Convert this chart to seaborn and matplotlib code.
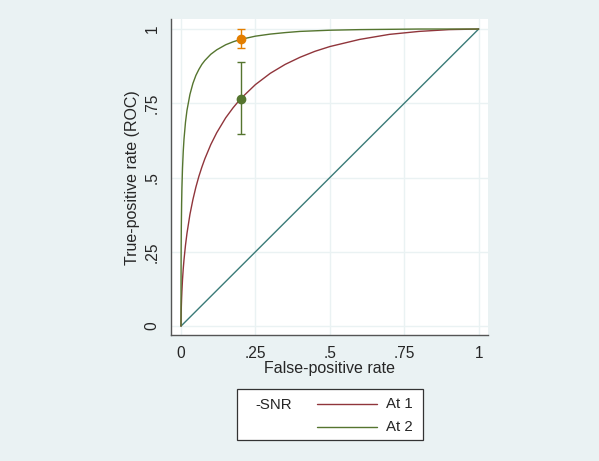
import matplotlib
matplotlib.use("Agg")
import matplotlib.pyplot as plt
import seaborn as sns
from matplotlib.patches import Rectangle
from matplotlib.lines import Line2D

# ---- data ----
fpr = [0, 0.00002, 0.0001, 0.0003, 0.0005, 0.001, 0.002, 0.003, 0.005, 0.0075, 0.01,
       0.015, 0.02, 0.03, 0.04, 0.05, 0.06, 0.07, 0.08, 0.1, 0.12, 0.15, 0.175, 0.2,
       0.25, 0.3, 0.35, 0.4, 0.45, 0.5, 0.6, 0.7, 0.8, 0.9, 1.0]
tpr_at1 = [0, 0.0055, 0.0156, 0.0309, 0.0421, 0.0635, 0.0944, 0.118, 0.156, 0.193, 0.223,
           0.272, 0.312, 0.376, 0.426, 0.468, 0.504, 0.535, 0.563, 0.611, 0.651, 0.701, 0.735, 0.765,
           0.813, 0.851, 0.881, 0.905, 0.925, 0.941, 0.965, 0.982, 0.992, 0.998, 1.0]
tpr_at2 = [0, 0.073, 0.143, 0.218, 0.262, 0.331, 0.411, 0.463, 0.531, 0.588, 0.629,
           0.686, 0.726, 0.780, 0.817, 0.844, 0.864, 0.881, 0.894, 0.915, 0.930, 0.947, 0.957, 0.965,
           0.976, 0.983, 0.988, 0.992, 0.994, 0.996, 0.998, 0.999, 1.0, 1.0, 1.0]
diag = [0, 1]

# operating points with confidence intervals
pt_x = [0.2, 0.2]
pt_y = [0.765, 0.966]
pt_lo = [0.645, 0.936]
pt_hi = [0.888, 1.0]

xticks = [0, 0.25, 0.5, 0.75, 1]
xticklabels = ["0", ".25", ".5", ".75", "1"]
yticks = [0, 0.25, 0.5, 0.75, 1]
yticklabels = ["0", ".25", ".5", ".75", "1"]

legend_labels = ["At 1", "At 2"]
legend_title = "-SNR"

# ---- style ----
sns.set_style("white")
plt.rcParams["font.family"] = ["Liberation Sans", "DejaVu Sans"]

BG = "#EAF2F3"
MAROON = "#90353B"
GREEN = "#55752F"
ORANGE = "#E37E00"
TEAL = "#3A7B78"

fig = plt.figure(figsize=(5.99, 4.61), dpi=100, facecolor=BG)
ax = fig.add_axes([0.285, 0.2733, 0.5305, 0.6848])
ax.set_facecolor("white")

ax.set_xlim(-0.0346, 1.033)
ax.set_ylim(-0.030, 1.0327)

# grid
for v in xticks:
    ax.axvline(v, color=BG, lw=1.0, zorder=0)
for v in yticks:
    ax.axhline(v, color=BG, lw=1.0, zorder=0)

sns.lineplot(x=diag, y=diag, color=TEAL, lw=1.0, ax=ax, estimator=None, sort=False, zorder=2)
sns.lineplot(x=fpr, y=tpr_at1, color=MAROON, lw=1.0, ax=ax, estimator=None, sort=False, zorder=3)
sns.lineplot(x=fpr, y=tpr_at2, color=GREEN, lw=1.0, ax=ax, estimator=None, sort=False, zorder=3)

colors_pts = [GREEN, ORANGE]
for x, y, lo, hi, c in zip(pt_x, pt_y, pt_lo, pt_hi, colors_pts):
    ax.errorbar([x], [y], yerr=[[y - lo], [hi - y]], fmt="o", color=c, ms=6,
                capsize=3, elinewidth=1.0, capthick=1.0, zorder=4)

ax.set_xticks(xticks)
ax.set_xticklabels(xticklabels)
ax.set_yticks(yticks)
ax.set_yticklabels(yticklabels, rotation=90, va="center")
ax.tick_params(axis="both", direction="out", length=5, width=0.8, color="#555555",
               labelsize=11.2, pad=3)
ax.set_xlabel("False-positive rate", fontsize=11.5, labelpad=0)
ax.set_ylabel("True-positive rate (ROC)", fontsize=11.5, labelpad=3)

for s in ["top", "right"]:
    ax.spines[s].set_visible(False)
for s in ["left", "bottom"]:
    ax.spines[s].set_color("#555555")
    ax.spines[s].set_linewidth(1.0)

# ---- legend (drawn manually, Stata style) ----
W, H = 599, 461
def fx(px):
    return px / W
def fy(py):
    return 1 - py / H

fig.add_artist(Rectangle((fx(237), fy(440)), fx(423) - fx(237), fy(389) - fy(440),
                         transform=fig.transFigure, facecolor="white",
                         edgecolor="#333333", lw=0.9))
fig.text(fx(255), fy(405), legend_title, ha="left", va="center", fontsize=10.8)
for i, (lab, c) in enumerate(zip(legend_labels, [MAROON, GREEN])):
    yy = 404 + i * 22.5
    fig.add_artist(Line2D([fx(317), fx(377)], [fy(yy), fy(yy)], transform=fig.transFigure,
                          color=c, lw=1.0))
    fig.text(fx(386), fy(yy + 0.5), lab, ha="left", va="center", fontsize=10.8)

fig.savefig("out.png", dpi=100, facecolor=BG)
